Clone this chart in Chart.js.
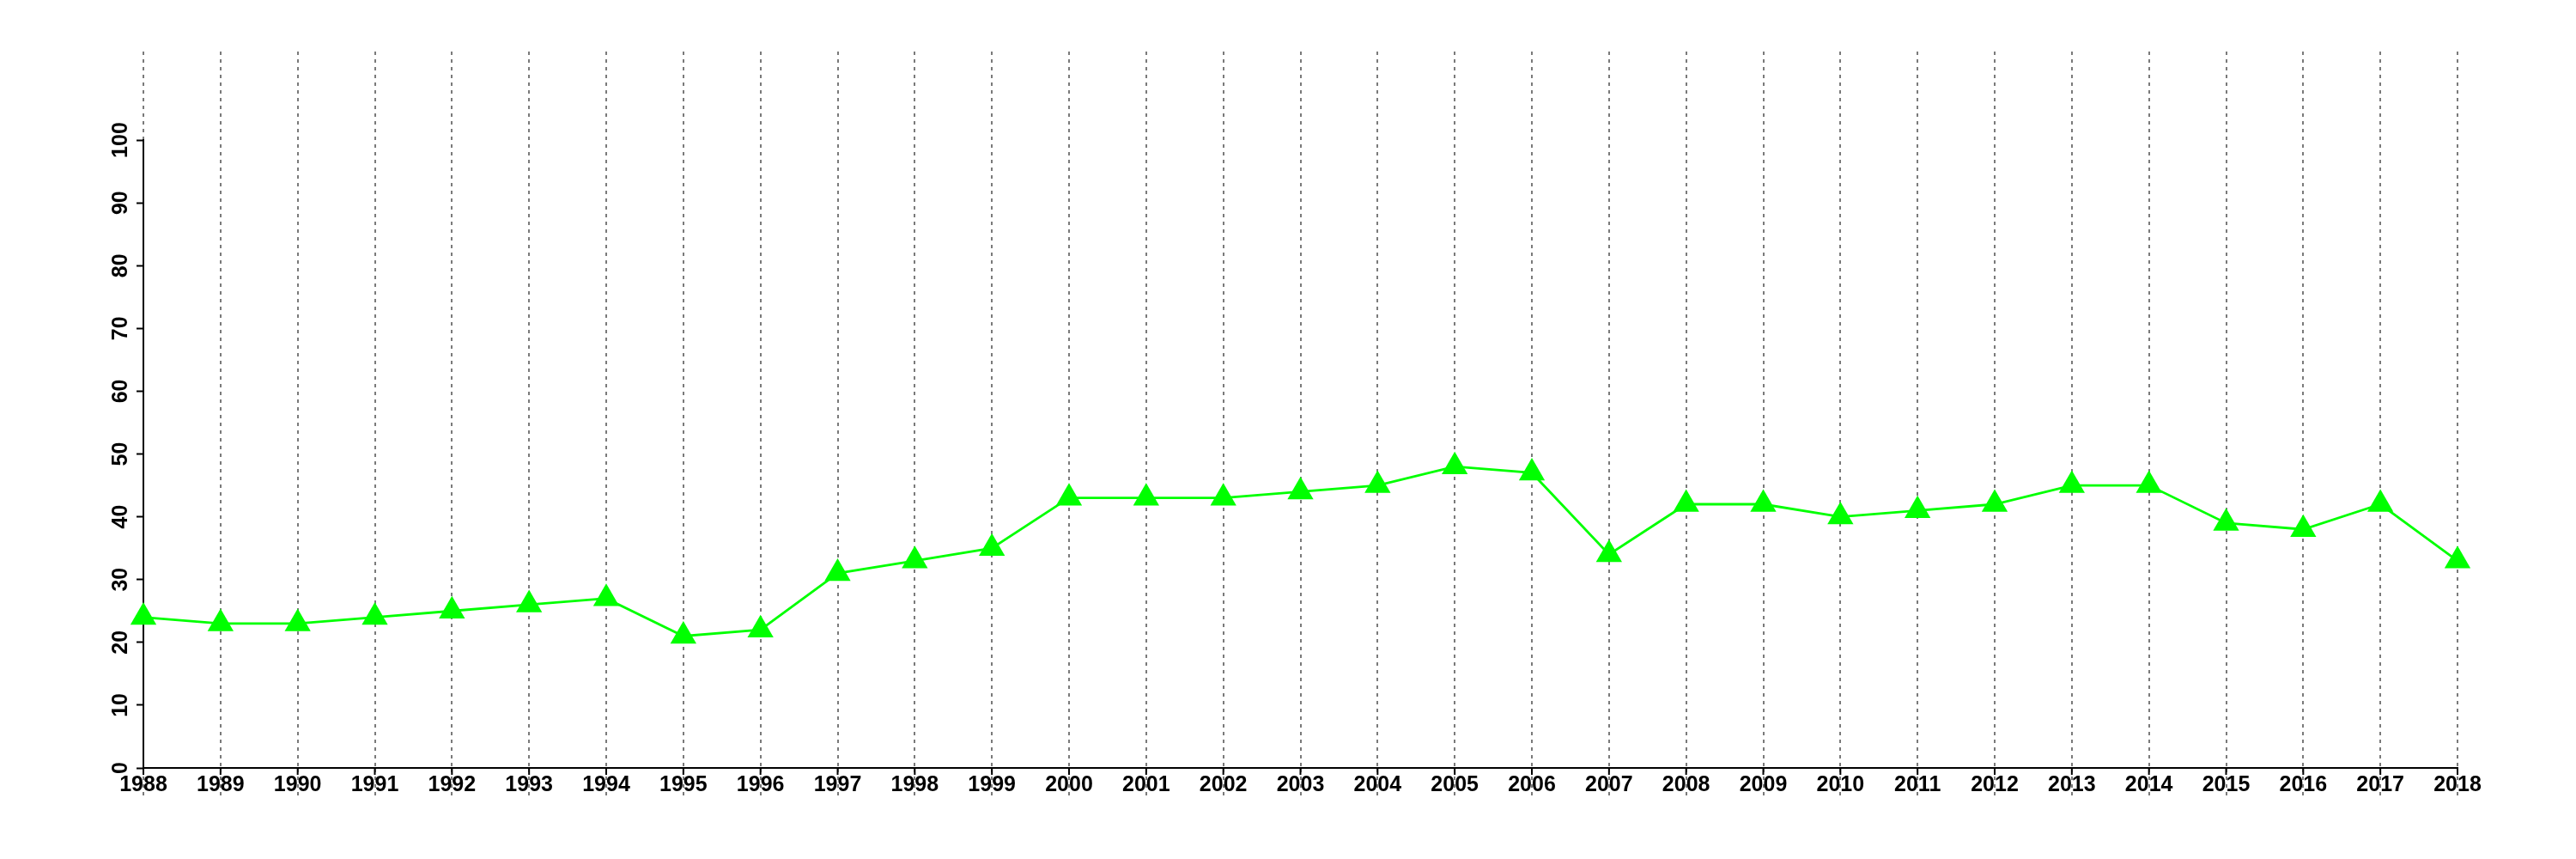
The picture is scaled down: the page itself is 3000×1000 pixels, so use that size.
<!DOCTYPE html>
<html>
<head>
<meta charset="utf-8">
<script src="https://cdn.jsdelivr.net/npm/chart.js@4.4.1/dist/chart.umd.min.js"></script>
<style>
  html, body { margin: 0; padding: 0; background: #fff; }
  #wrap { width: 3000px; height: 1000px; }
</style>
</head>
<body>
<div id="wrap"><canvas id="lineCanvas" width="3000" height="1000"></canvas></div>
<script>
// years on the x axis
const years = ['1988', '1989', '1990', '1991', '1992', '1993', '1994', '1995', '1996', '1997',
    '1998', '1999', '2000', '2001', '2002', '2003', '2004', '2005', '2006', '2007',
    '2008', '2009', '2010', '2011', '2012', '2013', '2014', '2015', '2016', '2017', '2018'];

// values
const values = [24, 23, 23, 24, 25, 26, 27, 21, 22, 31,
    33, 35, 43, 43, 43, 44, 45, 48, 47, 34,
    42, 42, 40, 41, 42, 45, 45, 39, 38, 42, 33];

// y tick range
const yTickMin = 0;
const yTickMax = 100;
const yTickStep = 10;

const labelFont = { family: '"Liberation Sans", Arial, Helvetica, sans-serif', size: 25, weight: 'bold' };

// draws the y axis line (only 0..100) and the short black ticks under the x axis
const axisLines = {
    id: 'axisLines',
    beforeDatasetsDraw(chart) {
        const { ctx, chartArea, scales } = chart;
        const y = scales.y, x = scales.x;
        ctx.save();
        ctx.strokeStyle = '#000';
        ctx.lineWidth = 2;
        ctx.beginPath();
        ctx.moveTo(chartArea.left, y.getPixelForValue(yTickMin) + 1);
        ctx.lineTo(chartArea.left, y.getPixelForValue(yTickMax) - 1);
        ctx.stroke();
        ctx.beginPath();
        years.forEach((yr, i) => {
            const px = x.getPixelForValue(i);
            ctx.moveTo(px, chartArea.bottom);
            ctx.lineTo(px, chartArea.bottom + 8);
        });
        ctx.stroke();
        ctx.restore();
    }
};

new Chart(document.getElementById('lineCanvas'), {
    type: 'line',
    data: {
        labels: years,
        datasets: [{
            data: values,
            borderColor: '#00ff00',
            borderWidth: 2.8,
            backgroundColor: '#00ff00',
            pointStyle: 'triangle',
            pointRadius: 17.5,
            pointBackgroundColor: '#00ff00',
            pointBorderWidth: 0,
            tension: 0,
            clip: false
        }]
    },
    options: {
        responsive: false,
        animation: false,
        devicePixelRatio: 1,
        layout: { padding: { top: 60, right: 138, left: 0, bottom: 0 } },
        plugins: {
            legend: { display: false },
            tooltip: { enabled: false }
        },
        scales: {
            x: {
                offset: false,
                grid: {
                    color: '#7a7a7a',
                    lineWidth: 2,
                    tickLength: 33,
                    tickColor: '#7a7a7a',
                    tickWidth: 2,
                    tickBorderDash: [4, 5]
                },
                border: { display: true, color: '#000', width: 2, dash: [4, 5] },
                ticks: {
                    color: '#000',
                    font: labelFont,
                    padding: -28,
                    autoSkip: false,
                    maxRotation: 0,
                    minRotation: 0
                },
                afterFit(scale) { scale.height = 106; }
            },
            y: {
                min: 0,
                max: 114.1,
                afterBuildTicks(scale) {
                    scale.ticks = scale.ticks.filter(t => t.value >= yTickMin && t.value <= yTickMax);
                },
                grid: {
                    drawOnChartArea: false,
                    drawTicks: true,
                    tickLength: 8,
                    tickColor: '#000',
                    tickWidth: 2
                },
                border: { display: false },
                ticks: {
                    stepSize: yTickStep,
                    color: '#000',
                    font: labelFont,
                    minRotation: 90,
                    maxRotation: 90,
                    crossAlign: 'center',
                    padding: -3
                },
                afterFit(scale) { scale.width = 167; }
            }
        }
    },
    plugins: [axisLines]
});
</script>
</body>
</html>
